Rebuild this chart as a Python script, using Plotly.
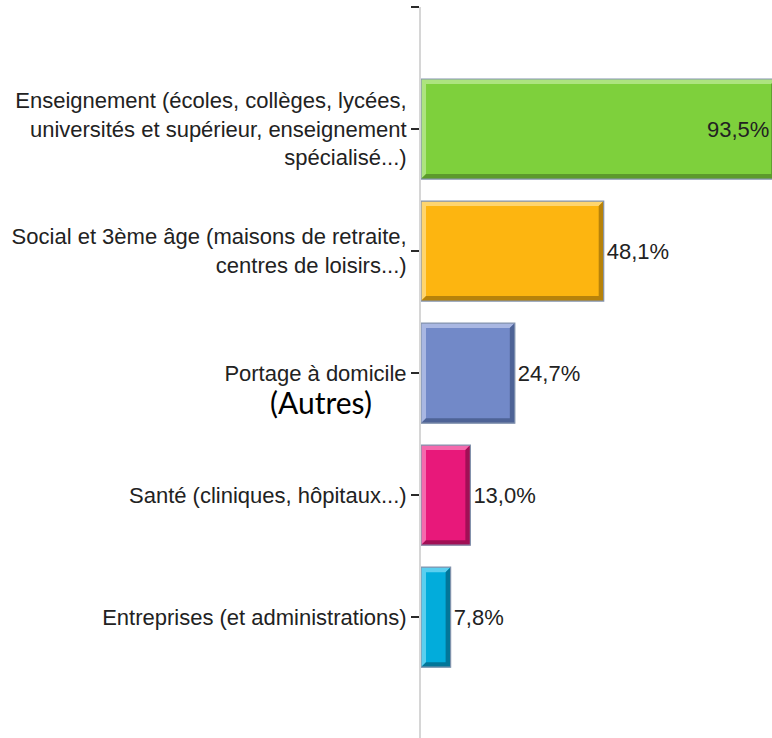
import plotly.graph_objects as go

# Secteurs de restauration collective (% de réponses)
categories = [
    "Enseignement (écoles, collèges, lycées,<br>universités et supérieur, enseignement<br>spécialisé...)",
    "Social et 3ème âge (maisons de retraite,<br>centres de loisirs...)",
    "Portage à domicile",
    "Santé (cliniques, hôpitaux...)",
    "Entreprises (et administrations)",
]
values = [93.5, 48.1, 24.7, 13.0, 7.8]
value_labels = ["93,5%", "48,1%", "24,7%", "13,0%", "7,8%"]

fill_colors = ["#7ed03c", "#fdb510", "#7289c8", "#e8187a", "#02acdb"]
light_colors = ["#ade47f", "#ffd56e", "#a9b7e2", "#f46aad", "#5ccfef"]
dark_colors = ["#5c9a2c", "#b7820a", "#4e6396", "#a10f55", "#027699"]
outline_color = "#8393ad"

LABEL_FONT = "Liberation Sans, Arial, sans-serif"
LABEL_SIZE = 22

positions = list(range(len(categories)))
bar_width = 0.82
bevel_x = 1.32   # bevel thickness along the value axis (%)
bevel_y = 0.041  # bevel thickness along the category axis
x_max = 92.4     # visible end of the value axis

# Bars running past the visible range carry their label inside, at the edge
inside = [v > x_max for v in values]
bar_text = ["" if ins else lab for ins, lab in zip(inside, value_labels)]

fig = go.Figure()

fig.add_trace(go.Bar(
    x=values,
    y=positions,
    orientation="h",
    width=bar_width,
    marker=dict(color=fill_colors, line=dict(width=0)),
    text=bar_text,
    textposition="outside",
    textfont=dict(family=LABEL_FONT, size=LABEL_SIZE, color="#222222"),
    cliponaxis=False,
    hoverinfo="skip",
    showlegend=False,
))

# Bevelled edges: light top/left, dark bottom/right
outline_x, outline_y = [], []
for pos, v, lc, dc in zip(positions, values, light_colors, dark_colors):
    t = pos - bar_width / 2
    b = pos + bar_width / 2
    fig.add_trace(go.Scatter(
        x=[0, v, v - bevel_x, bevel_x, bevel_x, 0, 0],
        y=[t, t, t + bevel_y, t + bevel_y, b - bevel_y, b, t],
        mode="lines", fill="toself", fillcolor=lc,
        line=dict(width=0), hoverinfo="skip", showlegend=False,
    ))
    fig.add_trace(go.Scatter(
        x=[v, v, 0, bevel_x, v - bevel_x, v - bevel_x, v],
        y=[t, b, b, b - bevel_y, b - bevel_y, t + bevel_y, t],
        mode="lines", fill="toself", fillcolor=dc,
        line=dict(width=0), hoverinfo="skip", showlegend=False,
    ))
    outline_x += [0, v, v, 0, 0, None]
    outline_y += [t, t, b, b, t, None]

fig.add_trace(go.Scatter(
    x=outline_x, y=outline_y, mode="lines",
    line=dict(color=outline_color, width=1.2),
    hoverinfo="skip", showlegend=False,
))

annotations = [dict(
    text=lab,
    xref="x", yref="y",
    x=x_max, y=pos,
    xanchor="right", yanchor="middle",
    xshift=-1,
    showarrow=False,
    font=dict(family=LABEL_FONT, size=LABEL_SIZE, color="#222222"),
) for pos, lab, ins in zip(positions, value_labels, inside) if ins]

annotations.append(dict(
    text="(Autres)",
    xref="paper", yref="paper",
    x=-0.2835, y=0.459,
    xanchor="center", yanchor="middle",
    showarrow=False,
    font=dict(family="Lato, sans-serif", size=30, color="#000000"),
))

y_top = -1.0
y_bottom = 4.99

fig.update_layout(
    width=772,
    height=738,
    margin=dict(l=421, r=0, t=7, b=0),
    paper_bgcolor="white",
    plot_bgcolor="white",
    font=dict(family=LABEL_FONT, size=LABEL_SIZE, color="#222222"),
    xaxis=dict(
        range=[0, x_max],
        visible=False,
        showgrid=False,
        zeroline=False,
        fixedrange=True,
    ),
    yaxis=dict(
        range=[y_bottom, y_top],
        tickmode="array",
        tickvals=positions + [y_top],
        ticktext=categories + [""],
        ticks="outside",
        ticklen=8,
        tickwidth=2,
        tickcolor="#2a2a2a",
        showline=True,
        linecolor="#d6d6d6",
        linewidth=2,
        showgrid=False,
        zeroline=False,
        tickfont=dict(family=LABEL_FONT, size=LABEL_SIZE, color="#222222"),
    ),
    annotations=annotations,
)

fig.write_html("out.html")
